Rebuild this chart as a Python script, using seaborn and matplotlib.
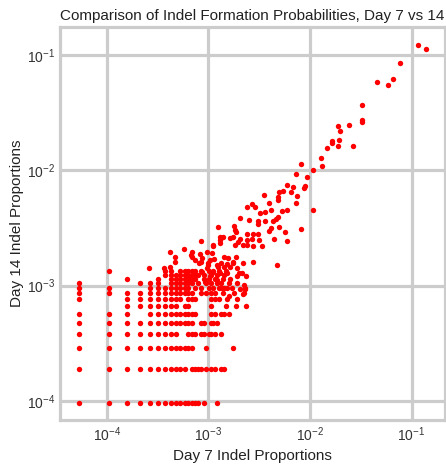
import numpy as np
import pandas as pd
import seaborn as sns
import matplotlib as mpl
import matplotlib.pyplot as plt

# ---- data: low counts sit on a lattice (one Day 14 level per row) ----
day14_levels = [9.5e-05, 1.9e-04, 2.85e-04, 3.8e-04, 4.75e-04, 5.7e-04, 6.65e-04,
                7.6e-04, 8.55e-04, 9.5e-04, 1.045e-03, 1.14e-03, 1.235e-03, 1.33e-03]

day7_at_level = [
    [5.3e-05, 1.06e-04, 1.59e-04, 2.12e-04, 2.65e-04, 3.18e-04, 3.71e-04, 4.24e-04, 4.77e-04,
     5.3e-04, 5.83e-04, 6.36e-04, 6.89e-04, 7.42e-04, 7.95e-04, 9.01e-04, 1.219e-03],
    [5.3e-05, 1.06e-04, 1.59e-04, 2.12e-04, 2.65e-04, 3.18e-04, 3.71e-04, 4.24e-04, 4.77e-04,
     5.3e-04, 5.83e-04, 6.89e-04, 7.42e-04, 7.95e-04, 8.48e-04, 9.54e-04, 1.06e-03, 1.166e-03,
     1.325e-03, 1.431e-03],
    [5.3e-05, 1.06e-04, 1.59e-04, 2.12e-04, 2.65e-04, 3.18e-04, 3.71e-04, 4.24e-04, 4.77e-04,
     5.3e-04, 5.83e-04, 6.36e-04, 6.89e-04, 9.54e-04, 1.749e-03],
    [5.3e-05, 1.06e-04, 1.59e-04, 2.12e-04, 2.65e-04, 3.18e-04, 3.71e-04, 4.24e-04, 4.77e-04,
     6.36e-04, 6.89e-04, 7.42e-04, 8.48e-04, 9.01e-04, 1.007e-03, 1.06e-03, 1.166e-03, 1.325e-03],
    [5.3e-05, 1.06e-04, 1.59e-04, 2.12e-04, 2.65e-04, 3.18e-04, 3.71e-04, 4.24e-04, 4.77e-04,
     5.3e-04, 5.83e-04, 6.36e-04, 6.89e-04, 8.48e-04, 9.01e-04, 1.06e-03, 1.113e-03, 1.219e-03],
    [5.3e-05, 1.06e-04, 1.59e-04, 2.65e-04, 3.18e-04, 3.71e-04, 4.24e-04, 4.77e-04, 5.3e-04,
     5.83e-04, 6.36e-04, 6.89e-04, 7.42e-04, 1.06e-03, 1.166e-03, 1.325e-03, 1.431e-03, 1.59e-03],
    [1.59e-04, 2.12e-04, 2.65e-04, 3.18e-04, 3.71e-04, 4.24e-04, 4.77e-04, 5.83e-04, 6.36e-04,
     1.06e-03, 1.484e-03, 1.855e-03, 2.332e-03],
    [5.3e-05, 1.59e-04, 2.12e-04, 2.65e-04, 3.18e-04, 3.71e-04, 4.24e-04, 4.77e-04, 5.3e-04,
     6.36e-04, 6.89e-04, 7.42e-04, 1.06e-03, 1.166e-03, 1.272e-03, 1.537e-03, 1.908e-03],
    [5.3e-05, 1.06e-04, 1.59e-04, 2.12e-04, 2.65e-04, 3.18e-04, 3.71e-04, 4.24e-04, 4.77e-04,
     5.3e-04, 5.83e-04, 6.36e-04, 6.89e-04, 8.48e-04, 9.54e-04, 1.06e-03, 1.166e-03, 1.378e-03,
     1.802e-03, 2.226e-03],
    [5.3e-05, 1.06e-04, 2.65e-04, 3.18e-04, 3.71e-04, 4.24e-04, 4.77e-04, 5.3e-04, 5.83e-04,
     6.36e-04, 7.42e-04, 8.48e-04, 1.007e-03, 1.113e-03, 1.272e-03, 1.431e-03, 1.696e-03, 2.279e-03],
    [5.3e-05, 2.12e-04, 2.65e-04, 3.18e-04, 4.24e-04, 4.77e-04, 5.3e-04, 5.83e-04, 6.36e-04,
     6.89e-04, 7.95e-04, 9.54e-04, 1.06e-03, 1.219e-03, 1.325e-03, 1.59e-03, 1.908e-03],
    [1.59e-04, 3.18e-04, 4.24e-04, 4.77e-04, 5.3e-04, 5.83e-04, 6.36e-04, 6.89e-04, 7.42e-04,
     9.01e-04, 1.007e-03, 1.166e-03, 1.378e-03, 1.643e-03],
    [3.71e-04, 4.77e-04, 5.3e-04, 5.83e-04, 6.36e-04, 6.89e-04, 7.95e-04, 9.01e-04, 1.06e-03,
     1.219e-03, 1.431e-03],
    [1.06e-04, 3.71e-04, 4.24e-04, 5.3e-04, 5.83e-04, 6.36e-04, 6.89e-04, 7.42e-04, 8.48e-04,
     1.007e-03, 1.113e-03, 1.272e-03, 1.484e-03],
]

# ---- data: the rest of the points ----
day7_upper = [
    0.117, 0.139, 0.0765, 0.0457, 0.0658, 0.0587, 0.0324, 0.0326, 0.0328, 0.0244,
    0.0187, 0.0196, 0.0195, 0.0165, 0.0166, 0.0189, 0.0146, 0.0267, 0.0128, 0.0132,
    0.00817, 0.00725, 0.0107, 0.00942, 0.00591, 0.00889, 0.00869, 0.00687, 0.0054, 0.00493,
    0.00647, 0.00741, 0.00489, 0.00489, 0.00356, 0.00393, 0.00735, 0.00269, 0.00239, 0.00286,
    0.00361, 0.00325, 0.00414, 0.00589, 0.00531, 0.0108, 0.00482, 0.00461, 0.00205, 0.00253,
    0.00306, 0.00359, 0.00308, 0.00433, 0.00179, 0.00183, 0.00393, 0.00411, 0.00493, 0.00817,
    0.00569, 0.00239, 0.00274, 0.00306, 0.00164, 0.00176, 0.00205, 0.00239, 0.00269, 0.00318,
    0.0044, 0.00599, 0.00221, 0.00239, 0.00274, 0.00184, 0.00335, 0.00471, 0.00125, 0.0013,
    0.0013,
    8.41e-04, 5.77e-04, 4.2e-04, 4.73e-04, 4.73e-04, 6.87e-04, 6.92e-04, 8.28e-04, 2.63e-04, 3.66e-04,
    4.24e-04, 8.41e-04, 9.86e-04, 1.04e-03, 9.64e-04, 1.08e-03, 1.1e-03, 1.3e-03, 1.39e-03, 1.87e-03,
    1.25e-03, 1.64e-03, 1.57e-03, 1.44e-03, 1.87e-03, 1.32e-03, 1.9e-03, 1.12e-03, 9.22e-04, 7.4e-04,
    6.61e-04, 8.61e-04, 1.21e-03, 1.97e-03, 1.52e-03, 1.74e-03, 2.21e-03, 2.02e-03, 2.35e-03, 1.93e-03,
    1.54e-03, 1.3e-03, 2.05e-03, 1.54e-03, 1.36e-03, 1.61e-03, 2.3e-03, 2.23e-03, 2.21e-03, 4.2e-04,
    7.4e-04, 1.04e-03, 8.1e-04, 9.77e-04, 1.12e-03, 1.14e-03,
    6.7e-04, 8.6e-04, 1.0e-03, 1.21e-03, 1.41e-03, 1.76e-03, 2.13e-03, 2.77e-03,
]
day14_upper = [
    0.123, 0.113, 0.0849, 0.0584, 0.0617, 0.055, 0.0371, 0.0274, 0.0263, 0.0249,
    0.024, 0.0221, 0.0182, 0.0181, 0.0171, 0.0163, 0.0157, 0.0161, 0.0127, 0.0108,
    0.0114, 0.00931, 0.0101, 0.00877, 0.00747, 0.00732, 0.00708, 0.00713, 0.00656, 0.00653,
    0.00646, 0.006, 0.00592, 0.00554, 0.00612, 0.00519, 0.00519, 0.00511, 0.00479, 0.00479,
    0.00431, 0.00423, 0.00451, 0.00454, 0.00442, 0.00451, 0.00397, 0.00377, 0.00384, 0.00371,
    0.00366, 0.00366, 0.00343, 0.00362, 0.0033, 0.00304, 0.003, 0.00316, 0.00321, 0.0031,
    0.00292, 0.00281, 0.00279, 0.00281, 0.00258, 0.00263, 0.00253, 0.00249, 0.00256, 0.00249,
    0.00253, 0.00246, 0.00225, 0.00224, 0.00221, 0.00224, 0.00221, 0.00151, 0.00321, 0.00266,
    0.00249,
    0.00244, 0.00207, 0.00197, 0.00178, 0.00161, 0.00197, 0.00178, 0.00188, 0.00142, 0.00142,
    0.00124, 0.0016, 0.00156, 0.00167, 0.00142, 0.00191, 0.00225, 0.00233, 0.00263, 0.00292,
    0.00146, 0.00146, 0.00175, 0.00178, 0.00178, 0.00156, 0.00142, 0.00132, 0.00108, 0.00124,
    0.00115, 0.00132, 0.00112, 0.00241, 0.00154, 0.00156, 0.00158, 0.00128, 0.00121, 0.00121,
    0.00128, 0.00128, 9.31e-04, 9.49e-04, 9.49e-04, 8.14e-04, 9.31e-04, 1.01e-03, 8.47e-04, 0.00146,
    0.00167, 0.0012, 0.00156, 0.00196, 0.0022, 0.00171,
    0.00185, 0.00173, 0.00151, 0.00151, 0.00146, 0.00161, 0.00128, 0.00161,
]

# ---- table ----
rows = []
for lvl, xs in zip(day14_levels, day7_at_level):
    for x in xs:
        rows.append((x, lvl))
rows += list(zip(day7_upper, day14_upper))
df = pd.DataFrame(rows, columns=["day7", "day14"])

# ---- style ----
sns.set_style("whitegrid")
mpl.rcParams['font.family'] = ['Liberation Sans', 'DejaVu Sans']
mpl.rcParams['mathtext.fontset'] = 'custom'
mpl.rcParams['mathtext.rm'] = 'Liberation Sans'
mpl.rcParams['mathtext.it'] = 'Liberation Sans:italic'
mpl.rcParams['mathtext.bf'] = 'Liberation Sans:bold'

fig = plt.figure(figsize=(4.46, 4.70), dpi=100)
ax = fig.add_axes([0.1345, 0.106, 0.8635, 0.8366])

sns.scatterplot(data=df, x="day7", y="day14", color="#ff0000", s=15,
                linewidth=0, ax=ax)

ax.set_xscale("log")
ax.set_yscale("log")
ax.set_xlim(3.46e-5, 0.214)
ax.set_ylim(6.8e-5, 0.175)

ax.grid(True, which="major", color="#cccccc", linewidth=2.3)
ax.grid(False, which="minor")
ax.tick_params(which="both", length=0, labelsize=10, colors="#333333")
for sp in ax.spines.values():
    sp.set_color("#cccccc")
    sp.set_linewidth(2.3)

ax.set_title("Comparison of Indel Formation Probabilities, Day 7 vs 14",
             fontsize=11, color="#222222", pad=5)
ax.set_xlabel("Day 7 Indel Proportions", fontsize=11, color="#222222", labelpad=4)
ax.set_ylabel("Day 14 Indel Proportions", fontsize=11, color="#222222", labelpad=2)

fig.savefig("out.png", dpi=100)
plt.close(fig)
